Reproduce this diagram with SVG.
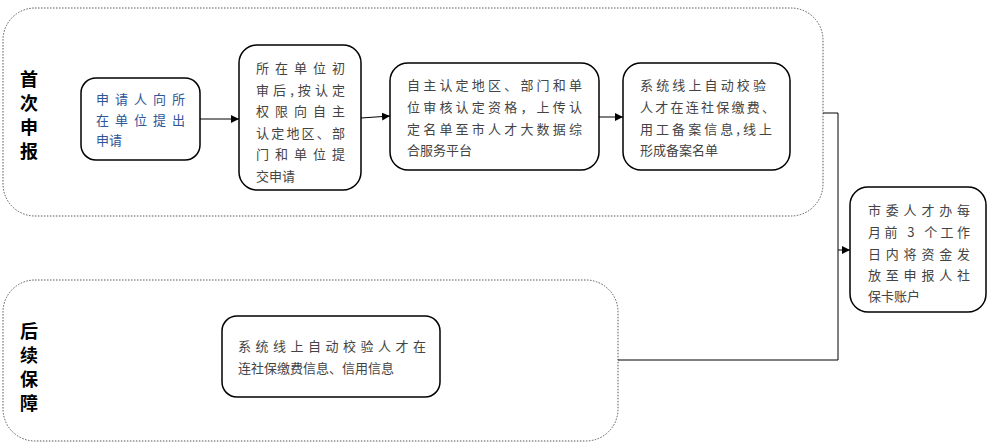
<svg xmlns="http://www.w3.org/2000/svg" width="992" height="446" viewBox="0 0 992 446">
<style>
.g{fill:none;stroke:#555;stroke-width:1;stroke-dasharray:1.5 1.5}
.b{fill:#fff;stroke:#000;stroke-width:1.5}
.t{font-family:"Noto Sans CJK SC",sans-serif;font-size:13px;fill:#444}
.bl{fill:#2e5597}
.h{font-family:"Noto Sans CJK SC",sans-serif;font-size:18px;font-weight:bold;fill:#000}
.c{fill:none;stroke:#000;stroke-width:1}
</style>
<defs><marker id="a" viewBox="0 0 10 10" refX="10" refY="5" markerWidth="8" markerHeight="8" orient="auto"><path d="M0,0L10,5L0,10z" fill="#000"/></marker></defs>
<rect class="g" x="3" y="8" width="820" height="208" rx="32"/>
<rect class="g" x="3" y="280" width="615" height="161" rx="32"/>
<g class="h"><text x="20" y="86">首</text><text x="20" y="110">次</text><text x="20" y="134">申</text><text x="20" y="158">报</text>
<text x="20" y="338">后</text><text x="20" y="362">续</text><text x="20" y="386">保</text><text x="20" y="410">障</text></g>
<g id="connectors">
<path class="c" d="M200,119H239" marker-end="url(#a)"/>
<path class="c" d="M361,118L390,116" marker-end="url(#a)"/>
<path class="c" d="M599,117H623" marker-end="url(#a)"/>
<path class="c" d="M823,113H838V250H850" marker-end="url(#a)"/>
<path class="c" d="M618,360H838V250"/>
</g>
<g id="n1"><rect class="b" x="81" y="78" width="119" height="82" rx="15"/>
<text class="t bl"><tspan x="96" y="104" textLength="89" lengthAdjust="spacing">申请人向所</tspan><tspan x="96" y="125" textLength="89" lengthAdjust="spacing">在单位提出</tspan><tspan x="96" y="145">申请</tspan></text></g>
<g id="n2"><rect class="b" x="239" y="45" width="122" height="145" rx="18"/>
<text class="t"><tspan x="256" y="73" textLength="89" lengthAdjust="spacing">所在单位初</tspan><tspan x="256" y="95" textLength="89" lengthAdjust="spacing">审后,按认定</tspan><tspan x="256" y="116" textLength="89" lengthAdjust="spacing">权限向自主</tspan><tspan x="256" y="138" textLength="89" lengthAdjust="spacing">认定地区、部</tspan><tspan x="256" y="159" textLength="89" lengthAdjust="spacing">门和单位提</tspan><tspan x="256" y="181">交申请</tspan></text></g>
<g id="n3"><rect class="b" x="390" y="63" width="209" height="107" rx="18"/>
<text class="t"><tspan x="407" y="90" textLength="175" lengthAdjust="spacing">自主认定地区、部门和单</tspan><tspan x="407" y="112" textLength="175" lengthAdjust="spacing">位审核认定资格，上传认</tspan><tspan x="407" y="134" textLength="175" lengthAdjust="spacing">定名单至市人才大数据综</tspan><tspan x="407" y="155">合服务平台</tspan></text></g>
<g id="n4"><rect class="b" x="623" y="63" width="167" height="107" rx="18"/>
<text class="t"><tspan x="640" y="90" textLength="126" lengthAdjust="spacing">系统线上自动校验</tspan><tspan x="640" y="112" textLength="135" lengthAdjust="spacing">人才在连社保缴费、</tspan><tspan x="640" y="134" textLength="132" lengthAdjust="spacing">用工备案信息,线上</tspan><tspan x="640" y="155">形成备案名单</tspan></text></g>
<g id="n5"><rect class="b" x="850" y="187" width="136" height="125" rx="18"/>
<text class="t"><tspan x="868" y="215" textLength="102" lengthAdjust="spacing">市委人才办每</tspan><tspan x="868" y="237" textLength="102" lengthAdjust="spacing">月前 3 个工作</tspan><tspan x="868" y="259" textLength="102" lengthAdjust="spacing">日内将资金发</tspan><tspan x="868" y="280" textLength="102" lengthAdjust="spacing">放至申报人社</tspan><tspan x="868" y="301">保卡账户</tspan></text></g>
<g id="n6"><rect class="b" x="222" y="316" width="218" height="81" rx="15"/>
<text class="t"><tspan x="238" y="351" textLength="188" lengthAdjust="spacing">系统线上自动校验人才在</tspan><tspan x="238" y="373">连社保缴费信息、信用信息</tspan></text></g>
</svg>
